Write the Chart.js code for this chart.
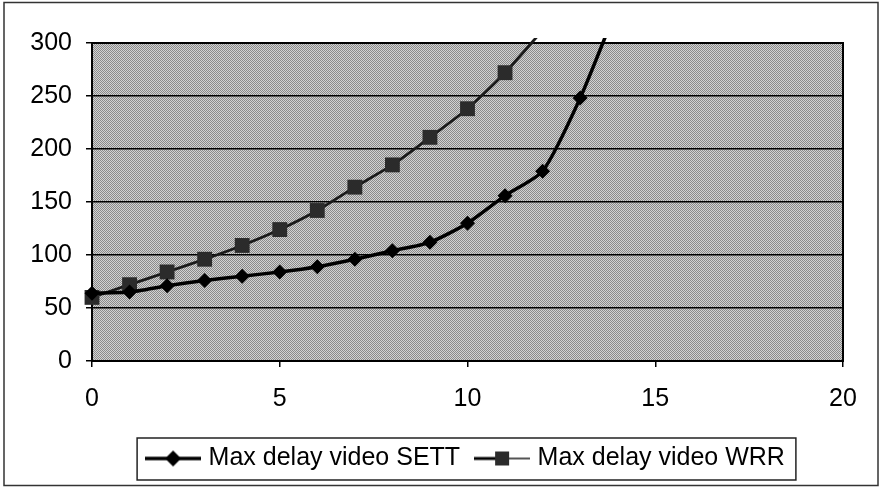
<!DOCTYPE html>
<html>
<head>
<meta charset="utf-8">
<script src="https://cdn.jsdelivr.net/npm/chart.js@4"></script>
<style>
  html, body { margin: 0; padding: 0; background: #fff; }
  #wrap { width: 880px; height: 488px; position: relative; }
</style>
</head>
<body>
<div id="wrap"><canvas id="chart" width="880" height="488"></canvas></div>
<script>
// load step (x) and max delay in ms for each scheduler
const settSteps = [0, 1, 2, 3, 4, 5, 6, 7, 8, 9, 10, 11, 12, 13, 14];
const settDelay = [64, 65, 71, 76, 80, 84, 89, 96, 104, 112, 130, 156, 179, 248, 335];
const wrrSteps = [0, 1, 2, 3, 4, 5, 6, 7, 8, 9, 10, 11, 12];
const wrrDelay = [60, 72, 84, 96, 109, 124, 142, 164, 185, 211, 238, 272, 312];

const seriesNames = ['Max delay video SETT', 'Max delay video WRR'];

const FONT = '"Liberation Sans", Arial, Helvetica, sans-serif';
Chart.defaults.font.family = FONT;
Chart.defaults.font.size = 25;
Chart.defaults.color = '#000';

function toPoints(xs, ys) {
    return xs.map((x, i) => ({x: x, y: ys[i]}));
}

// halftone-ish grey fill for the plot area
function makePattern(ctx) {
    const c = document.createElement('canvas');
    c.width = 2; c.height = 2;
    const p = c.getContext('2d');
    p.fillStyle = '#d2d2d2';
    p.fillRect(0, 0, 2, 2);
    p.fillStyle = '#8a8a8a';
    p.fillRect(0, 0, 1, 1);
    p.fillRect(1, 1, 1, 1);
    return ctx.createPattern(c, 'repeat');
}

// legend samples: a short line with the marker in the middle
function legendSample(kind) {
    const c = document.createElement('canvas');
    c.width = 56; c.height = 18;
    const g = c.getContext('2d');
    if (kind === 'diamond') {
        g.strokeStyle = '#000';
        g.lineWidth = 3.5;
        g.beginPath(); g.moveTo(0, 9); g.lineTo(56, 9); g.stroke();
        g.fillStyle = '#000';
        g.beginPath();
        g.moveTo(28 - 8, 9); g.lineTo(28, 1); g.lineTo(28 + 8, 9); g.lineTo(28, 17);
        g.closePath(); g.fill();
    } else {
        g.strokeStyle = '#000';
        g.lineWidth = 3;
        g.beginPath(); g.moveTo(0, 9); g.lineTo(22, 9); g.stroke();
        g.strokeStyle = '#555';
        g.lineWidth = 2;
        g.beginPath(); g.moveTo(34, 9); g.lineTo(56, 9); g.stroke();
        g.fillStyle = '#2b2b2b';
        g.fillRect(21, 2, 14, 14);
    }
    return c;
}

const plotDecor = {
    id: 'plotDecor',
    beforeDraw(chart) {
        const {ctx, chartArea: a} = chart;
        ctx.save();
        ctx.fillStyle = '#fff';
        ctx.fillRect(0, 0, chart.width, chart.height);
        ctx.fillStyle = makePattern(ctx);
        ctx.fillRect(a.left, a.top, a.right - a.left, a.bottom - a.top);
        ctx.restore();
    },
    beforeDatasetsDraw(chart) {
        const {ctx, chartArea: a} = chart;
        ctx.save();
        ctx.strokeStyle = '#000';
        ctx.lineWidth = 2;
        ctx.strokeRect(a.left, a.top, a.right - a.left, a.bottom - a.top);
        ctx.restore();
    },
    afterDraw(chart) {
        const {ctx} = chart;
        ctx.save();
        // frame round the legend
        const boxes = chart.legend.legendHitBoxes;
        if (boxes && boxes.length) {
            const first = boxes[0], last = boxes[boxes.length - 1];
            const l = first.left - 13;
            const r = last.left + last.width + 11;
            const t = first.top - 8;
            const b = first.top + first.height + 9;
            ctx.strokeStyle = '#222';
            ctx.lineWidth = 1.5;
            ctx.strokeRect(l, t, r - l, b - t);
        }
        // outer frame
        ctx.strokeStyle = '#333';
        ctx.lineWidth = 1.5;
        ctx.strokeRect(4, 2.5, 874, 483);
        ctx.restore();
    }
};

const chart = new Chart(document.getElementById('chart').getContext('2d'), {
    type: 'line',
    data: {
        datasets: [{
            label: seriesNames[0],
            data: toPoints(settSteps, settDelay),
            borderColor: '#000',
            borderWidth: 3.5,
            backgroundColor: '#000',
            pointStyle: 'rectRot',
            pointRadius: 7.5,
            pointBorderWidth: 0,
            pointBackgroundColor: '#000',
            tension: 0.2,
            clip: {left: 14, top: 5, right: 0, bottom: 0}
        }, {
            label: seriesNames[1],
            data: toPoints(wrrSteps, wrrDelay),
            borderColor: '#1a1a1a',
            borderWidth: 2.8,
            backgroundColor: '#2b2b2b',
            pointStyle: 'rect',
            pointRadius: 10.5,
            pointBorderWidth: 0,
            pointBackgroundColor: '#2b2b2b',
            tension: 0.2,
            clip: {left: 14, top: 5, right: 0, bottom: 0}
        }]
    },
    options: {
        responsive: false,
        animation: false,
        layout: {padding: {top: 43, right: 37, bottom: 7, left: 0}},
        scales: {
            x: {
                type: 'linear',
                min: 0,
                max: 20,
                ticks: {stepSize: 5, padding: 17, color: '#000'},
                grid: {drawOnChartArea: false, tickLength: 6, color: '#000', lineWidth: 1.5},
                border: {color: '#000', width: 2},
                afterFit(scale) { scale.height = 66; }
            },
            y: {
                min: 0,
                max: 300,
                ticks: {stepSize: 50, padding: 14, color: '#000'},
                grid: {color: '#000', lineWidth: 1.5, tickLength: 6},
                border: {color: '#000', width: 2},
                afterFit(scale) { scale.width = 92; }
            }
        },
        plugins: {
            legend: {
                position: 'bottom',
                fullSize: false,
                labels: {
                    usePointStyle: true,
                    pointStyleWidth: 46,
                    padding: 19,
                    color: '#000',
                    font: {size: 25},
                    generateLabels(ch) {
                        return ch.data.datasets.map((ds, i) => ({
                            text: ds.label,
                            pointStyle: legendSample(i === 0 ? 'diamond' : 'square'),
                            fillStyle: ds.backgroundColor,
                            strokeStyle: ds.borderColor,
                            lineWidth: 0,
                            hidden: false,
                            datasetIndex: i
                        }));
                    }
                }
            },
            tooltip: {enabled: false}
        }
    },
    plugins: [plotDecor]
});
</script>
</body>
</html>
